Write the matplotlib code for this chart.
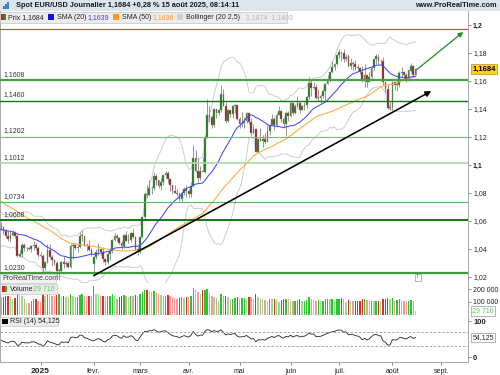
import numpy as np
import pandas as pd
import matplotlib
matplotlib.use('Agg')
import matplotlib.pyplot as plt
from matplotlib.patches import Rectangle
import matplotlib.transforms as mtransforms

plt.rcParams['font.family'] = ['Liberation Sans', 'DejaVu Sans']

# ---------------- data ----------------
# closes before the visible window (used only for SMA / Bollinger / RSI warm-up)
warmup_close = [1.1110, 1.1180, 1.1135, 1.1175, 1.1165, 1.1135, 1.1065, 1.1045, 1.1030, 1.0975,
                1.0975, 1.0980, 1.0940, 1.0935, 1.0935, 1.0910, 1.0890, 1.0860, 1.0830, 1.0865,
                1.0815, 1.0795, 1.0780, 1.0825, 1.0795, 1.0815, 1.0815, 1.0855, 1.0885, 1.0835,
                1.0880, 1.0930, 1.0730, 1.0800, 1.0720, 1.0655, 1.0620, 1.0565, 1.0530, 1.0540,
                1.0600, 1.0595, 1.0545, 1.0470, 1.0420, 1.0495, 1.0490, 1.0565, 1.0555, 1.0578,
                1.0500, 1.0510, 1.0510, 1.0587]

dates = pd.bdate_range('2024-12-06', '2025-08-15')

opens = [
    # Dec
    1.0587, 1.0567, 1.0555, 1.0528, 1.0495, 1.0468, 1.0500, 1.0512, 1.0490, 1.0350, 1.0363, 1.0430, 1.0405, 1.0405, 1.0400, 1.0424, 1.0426, 1.0410,
    # Jan
    1.0354, 1.0352, 1.0265, 1.0307, 1.0390, 1.0343, 1.0318, 1.0300, 1.0244, 1.0245, 1.0308, 1.0290, 1.0300, 1.0272, 1.0418, 1.0430, 1.0410, 1.0415, 1.0495, 1.0495, 1.0430, 1.0422, 1.0390,
    # Feb
    1.0290, 1.0345, 1.0380, 1.0403, 1.0380, 1.0330, 1.0308, 1.0362, 1.0385, 1.0465, 1.0490, 1.0482, 1.0445, 1.0420, 1.0500, 1.0460, 1.0467, 1.0513, 1.0485, 1.0400,
    # Mar
    1.0375, 1.0485, 1.0625, 1.0790, 1.0785, 1.0833, 1.0835, 1.0920, 1.0890, 1.0850, 1.0880, 1.0925, 1.0945, 1.0900, 1.0855, 1.0815, 1.0800, 1.0790, 1.0755, 1.0800, 1.0830,
    # Apr
    1.0815, 1.0793, 1.0853, 1.1050, 1.0960, 1.0905, 1.0960, 1.0950, 1.1190, 1.1360, 1.1345, 1.1285, 1.1400, 1.1370, 1.1395, 1.1510, 1.1420, 1.1315, 1.1390, 1.1365, 1.1420, 1.1425,
    # May
    1.1330, 1.1290, 1.1300, 1.1315, 1.1370, 1.1305, 1.1225, 1.1255, 1.1090, 1.1185, 1.1175, 1.1185, 1.1165, 1.1240, 1.1285, 1.1330, 1.1285, 1.1360, 1.1385, 1.1325, 1.1290, 1.1370,
    # Jun
    1.1350, 1.1440, 1.1370, 1.1420, 1.1445, 1.1395, 1.1420, 1.1425, 1.1485, 1.1585, 1.1550, 1.1560, 1.1480, 1.1480, 1.1495, 1.1525, 1.1580, 1.1610, 1.1665, 1.1700, 1.1720,
    # Jul
    1.1785, 1.1805, 1.1800, 1.1760, 1.1775, 1.1710, 1.1725, 1.1720, 1.1700, 1.1690, 1.1665, 1.1600, 1.1640, 1.1595, 1.1625, 1.1690, 1.1755, 1.1775, 1.1740, 1.1740, 1.1590, 1.1545, 1.1405,
    # Aug
    1.1415, 1.1590, 1.1570, 1.1575, 1.1660, 1.1665, 1.1640, 1.1615, 1.1675, 1.1705, 1.1645,
]
highs = [
    1.0630, 1.0595, 1.0560, 1.0545, 1.0525, 1.0525, 1.0535, 1.0525, 1.0510, 1.0395, 1.0445, 1.0445, 1.0415, 1.0415, 1.0430, 1.0455, 1.0445, 1.0420,
    1.0375, 1.0365, 1.0315, 1.0437, 1.0435, 1.0355, 1.0330, 1.0315, 1.0255, 1.0315, 1.0350, 1.0315, 1.0315, 1.0435, 1.0440, 1.0445, 1.0425, 1.0520, 1.0535, 1.0495, 1.0445, 1.0465, 1.0410,
    1.0350, 1.0400, 1.0440, 1.0410, 1.0412, 1.0335, 1.0375, 1.0405, 1.0470, 1.0515, 1.0505, 1.0485, 1.0455, 1.0505, 1.0528, 1.0505, 1.0520, 1.0545, 1.0490, 1.0420,
    1.0495, 1.0630, 1.0805, 1.0855, 1.0890, 1.0850, 1.0947, 1.0935, 1.0895, 1.0905, 1.0925, 1.0955, 1.0955, 1.0905, 1.0860, 1.0860, 1.0825, 1.0805, 1.0815, 1.0845, 1.0855,
    1.0830, 1.0880, 1.1145, 1.1105, 1.1050, 1.0990, 1.1055, 1.1215, 1.1475, 1.1420, 1.1355, 1.1405, 1.1400, 1.1400, 1.1573, 1.1545, 1.1450, 1.1400, 1.1395, 1.1425, 1.1435, 1.1425,
    1.1345, 1.1380, 1.1345, 1.1380, 1.1380, 1.1335, 1.1290, 1.1265, 1.1195, 1.1265, 1.1215, 1.1225, 1.1285, 1.1285, 1.1365, 1.1345, 1.1375, 1.1420, 1.1390, 1.1345, 1.1385, 1.1385,
    1.1455, 1.1445, 1.1435, 1.1495, 1.1455, 1.1430, 1.1450, 1.1495, 1.1630, 1.1615, 1.1590, 1.1580, 1.1540, 1.1510, 1.1540, 1.1585, 1.1640, 1.1665, 1.1745, 1.1725, 1.1790,
    1.1830, 1.1810, 1.1830, 1.1790, 1.1790, 1.1765, 1.1745, 1.1750, 1.1720, 1.1700, 1.1710, 1.1720, 1.1645, 1.1665, 1.1700, 1.1760, 1.1790, 1.1790, 1.1755, 1.1770, 1.1595, 1.1580, 1.1450,
    1.1600, 1.1595, 1.1605, 1.1670, 1.1700, 1.1670, 1.1655, 1.1680, 1.1730, 1.1715, 1.1690,
]
lows = [
    1.0540, 1.0535, 1.0510, 1.0480, 1.0460, 1.0450, 1.0490, 1.0475, 1.0345, 1.0345, 1.0345, 1.0385, 1.0385, 1.0395, 1.0380, 1.0390, 1.0390, 1.0345,
    1.0340, 1.0225, 1.0250, 1.0300, 1.0335, 1.0275, 1.0285, 1.0215, 1.0178, 1.0235, 1.0265, 1.0270, 1.0265, 1.0265, 1.0325, 1.0390, 1.0380, 1.0410, 1.0455, 1.0420, 1.0385, 1.0385, 1.0350,
    1.0210, 1.0330, 1.0355, 1.0355, 1.0305, 1.0285, 1.0290, 1.0320, 1.0370, 1.0455, 1.0460, 1.0435, 1.0400, 1.0410, 1.0455, 1.0445, 1.0450, 1.0480, 1.0390, 1.0360,
    1.0370, 1.0480, 1.0610, 1.0765, 1.0780, 1.0795, 1.0820, 1.0860, 1.0835, 1.0820, 1.0860, 1.0910, 1.0875, 1.0815, 1.0795, 1.0800, 1.0780, 1.0745, 1.0735, 1.0785, 1.0775,
    1.0775, 1.0775, 1.0840, 1.0950, 1.0880, 1.0895, 1.0950, 1.0940, 1.1190, 1.1305, 1.1265, 1.1270, 1.1335, 1.1360, 1.1380, 1.1420, 1.1300, 1.1310, 1.1340, 1.1335, 1.1375, 1.1320,
    1.1265, 1.1275, 1.1265, 1.1300, 1.1290, 1.1205, 1.1220, 1.1090, 1.1085, 1.1170, 1.1130, 1.1150, 1.1165, 1.1215, 1.1285, 1.1250, 1.1275, 1.1355, 1.1305, 1.1265, 1.1210, 1.1315,
    1.1345, 1.1355, 1.1365, 1.1405, 1.1375, 1.1390, 1.1395, 1.1410, 1.1470, 1.1490, 1.1540, 1.1470, 1.1460, 1.1445, 1.1480, 1.1455, 1.1580, 1.1590, 1.1660, 1.1680, 1.1715,
    1.1765, 1.1745, 1.1735, 1.1745, 1.1700, 1.1685, 1.1680, 1.1680, 1.1670, 1.1650, 1.1595, 1.1555, 1.1555, 1.1590, 1.1615, 1.1680, 1.1720, 1.1720, 1.1715, 1.1575, 1.1520, 1.1400, 1.1392,
    1.1390, 1.1535, 1.1530, 1.1560, 1.1630, 1.1615, 1.1590, 1.1600, 1.1665, 1.1630, 1.1640,
]
closes = [
    1.0567, 1.0555, 1.0528, 1.0495, 1.0468, 1.0500, 1.0512, 1.0490, 1.0350, 1.0363, 1.0430, 1.0405, 1.0405, 1.0400, 1.0424, 1.0426, 1.0410, 1.0354,
    1.0352, 1.0265, 1.0307, 1.0390, 1.0343, 1.0318, 1.0300, 1.0244, 1.0245, 1.0308, 1.0290, 1.0300, 1.0272, 1.0418, 1.0430, 1.0410, 1.0415, 1.0495, 1.0495, 1.0430, 1.0422, 1.0390, 1.0362,
    1.0345, 1.0380, 1.0403, 1.0380, 1.0330, 1.0308, 1.0362, 1.0385, 1.0465, 1.0490, 1.0482, 1.0445, 1.0420, 1.0500, 1.0460, 1.0467, 1.0513, 1.0485, 1.0400, 1.0375,
    1.0485, 1.0625, 1.0790, 1.0785, 1.0833, 1.0835, 1.0920, 1.0890, 1.0850, 1.0880, 1.0925, 1.0945, 1.0900, 1.0855, 1.0815, 1.0800, 1.0790, 1.0755, 1.0800, 1.0830, 1.0815,
    1.0793, 1.0853, 1.1050, 1.0960, 1.0905, 1.0960, 1.0950, 1.1190, 1.1360, 1.1345, 1.1285, 1.1400, 1.1370, 1.1395, 1.1510, 1.1420, 1.1315, 1.1390, 1.1365, 1.1420, 1.1425, 1.1330,
    1.1290, 1.1300, 1.1315, 1.1370, 1.1305, 1.1225, 1.1255, 1.1090, 1.1185, 1.1175, 1.1185, 1.1165, 1.1240, 1.1285, 1.1330, 1.1285, 1.1360, 1.1385, 1.1325, 1.1290, 1.1370, 1.1350,
    1.1440, 1.1370, 1.1420, 1.1445, 1.1395, 1.1420, 1.1425, 1.1485, 1.1585, 1.1550, 1.1560, 1.1480, 1.1480, 1.1495, 1.1525, 1.1580, 1.1610, 1.1665, 1.1700, 1.1720, 1.1785,
    1.1805, 1.1800, 1.1760, 1.1775, 1.1710, 1.1725, 1.1720, 1.1700, 1.1690, 1.1665, 1.1600, 1.1640, 1.1595, 1.1625, 1.1690, 1.1755, 1.1775, 1.1740, 1.1740, 1.1590, 1.1545, 1.1405, 1.1415,
    1.1590, 1.1570, 1.1575, 1.1660, 1.1665, 1.1640, 1.1615, 1.1675, 1.1705, 1.1645, 1.1684,
]
volumes_k = [
    150, 135, 140, 145, 150, 140, 125, 130, 165, 160, 150, 120, 95, 90, 110, 120, 125, 110,
    100, 165, 150, 160, 155, 145, 140, 155, 160, 140, 145, 140, 135, 160, 150, 140, 140, 155, 160, 150, 140, 150, 145,
    220, 165, 160, 150, 150, 135, 145, 150, 160, 150, 120, 140, 145, 155, 150, 140, 150, 145, 155, 150,
    165, 175, 190, 195, 185, 175, 185, 170, 160, 155, 150, 150, 155, 150, 140, 130, 125, 130, 135, 130, 140,
    135, 150, 205, 195, 175, 165, 190, 190, 200, 160, 150, 140, 130, 110, 160, 150, 150, 140, 120, 125, 130, 135,
    120, 130, 130, 125, 140, 135, 120, 165, 140, 125, 120, 115, 110, 125, 120, 120, 115, 100, 115, 120, 125, 120,
    115, 110, 110, 115, 120, 105, 110, 115, 135, 125, 115, 110, 115, 105, 110, 120, 125, 120, 125, 115, 120,
    125, 130, 120, 100, 115, 110, 105, 110, 110, 110, 120, 125, 115, 110, 110, 105, 110, 110, 105, 120, 120, 130, 125,
    130, 110, 115, 125, 115, 105, 100, 110, 115, 110, 29.71,
]

levels = [1.1608, 1.1460, 1.1202, 1.1012, 1.0734, 1.0608, 1.0230]
level_labels = ['1,1608', '1,1460', '1,1202', '1,1012', '1,0734', '1,0608', '1,0230']
red_level = 1.197
# hand-drawn trend lines: (bar index, price)
black_trend = [(41, 1.0210), (186.8, 1.1528)]
green_arrow = [(180.6, 1.1682), (200.6, 1.1950)]
month_labels = ['2025', 'févr.', 'mars', 'avr.', 'mai', 'juin', 'juil.', 'août', 'sept.']
price_ticks = [1.02, 1.04, 1.06, 1.08, 1.10, 1.12, 1.14, 1.16, 1.18, 1.20]

# ---------------- computation ----------------
o = np.array(opens); h = np.array(highs); l = np.array(lows); c = np.array(closes)
v = np.array(volumes_k) * 1000
n = len(c)
assert len(dates) == n == len(o) == len(h) == len(l) == len(v)
x = np.arange(n)

full = pd.Series(warmup_close + closes)
sma20 = full.rolling(20).mean().values[-n:]
sma50 = full.rolling(50).mean().values[-n:]
sd20 = full.rolling(20).std(ddof=0).values[-n:]
bb_up = sma20 + 2.5 * sd20
bb_lo = sma20 - 2.5 * sd20
d = full.diff()
gain = d.clip(lower=0).ewm(alpha=1/14, adjust=False).mean()
loss = (-d.clip(upper=0)).ewm(alpha=1/14, adjust=False).mean()
rsi = (100 - 100 / (1 + gain / loss)).values[-n:]

# ---------------- figure ----------------
W, H = 500, 375
fig = plt.figure(figsize=(5, 3.75), dpi=100)
fig.patch.set_facecolor('white')

def rect(x0, y0, x1, y1):
    return [x0 / W, 1 - y1 / H, (x1 - x0) / W, (y1 - y0) / H]

RX = 467.5
ax = fig.add_axes(rect(0, 11, RX, 283))
axv = fig.add_axes(rect(0, 283, RX, 316), sharex=ax)
axr = fig.add_axes(rect(0, 316, RX, 362), sharex=ax)

pxbar = 2.315
jan1 = int(np.where(dates >= pd.Timestamp('2025-01-01'))[0][0])
xmin = jan1 - 40.5 / pxbar
xmax = xmin + RX / pxbar
ax.set_xlim(xmin, xmax)
ax.set_ylim(1.2 - (283 - 25) / 1400, 1.2 + 14 / 1400)
axv.set_ylim(-100000 / 13, 100000 * 32 / 13)
axr.set_ylim(-5 / 0.36, 100 + 5 / 0.36)

spine_c = '#a8a8a8'
for a in (ax, axv, axr):
    for s in a.spines.values():
        s.set_color(spine_c)
        s.set_linewidth(0.7)
    a.spines['top'].set_visible(False)
    a.yaxis.tick_right()
    a.tick_params(axis='y', which='both', length=2, width=0.6, color='#777777', pad=2,
                  labelsize=5, labelcolor='#222222', direction='out')
    a.tick_params(axis='x', which='both', bottom=False, labelbottom=False)

# level lines
lvl_style = {
    1.1608: ('#45a345', 1.6), 1.1460: ('#177317', 1.0), 1.1202: ('#70c070', 0.8),
    1.1012: ('#a8dba8', 1.2), 1.0734: ('#5cb85c', 0.8), 1.0608: ('#157515', 1.4),
    1.0230: ('#3d9d3d', 1.6),
}
blend = mtransforms.blended_transform_factory(ax.transAxes, ax.transData)
for lv, lab in zip(levels, level_labels):
    col, lw = lvl_style[lv]
    ax.axhline(lv, color=col, lw=lw, zorder=4)
    ax.text(3 / RX, lv + 2.2 / 1400, lab, transform=blend, fontsize=5, color='#333333',
            va='bottom', ha='left', zorder=6)
ax.axhline(red_level, color='#e23a3a', lw=0.8, zorder=4)

# bollinger and SMAs
ax.plot(x, bb_up, color='#cccccc', lw=0.7, zorder=1)
ax.plot(x, bb_lo, color='#cccccc', lw=0.7, zorder=1)
ax.plot(x, sma50, color='#ffa837', lw=0.75, zorder=3)
ax.plot(x, sma20, color='#4646ff', lw=0.75, zorder=3)

# candles
up = c >= o
body_col = np.where(up, '#157a15', '#8e1b1b')
ax.vlines(x, l, h, color='#7a7a7a', lw=0.55, zorder=2)
body_h = np.maximum(np.abs(c - o), 0.0003)
ax.bar(x, body_h, bottom=np.minimum(o, c), width=0.75, color=body_col,
       edgecolor='#9a9a9a', linewidth=0.3, zorder=2.5)

# hand-drawn trend lines
ax.annotate('', xy=black_trend[1], xytext=black_trend[0],
            arrowprops=dict(arrowstyle='-|>', color='black', lw=1.15, mutation_scale=8,
                            shrinkA=0, shrinkB=0), zorder=7)
ax.annotate('', xy=green_arrow[1], xytext=green_arrow[0],
            arrowprops=dict(arrowstyle='-|>', color='#1c8c1c', lw=0.9, mutation_scale=7,
                            shrinkA=0, shrinkB=0), zorder=7)

# price axis
ax.set_yticks(price_ticks)
ax.set_yticklabels([('%.2f' % t).replace('.', ',').rstrip('0') for t in price_ticks])
for t, lab in zip(price_ticks, ax.get_yticklabels()):
    if abs(t - 1.2) < 1e-9 or abs(t - 1.1) < 1e-9:
        lab.set_fontweight('bold')
ax.text(1 + 5 / RX, c[-1], '1,1684', transform=blend, fontsize=5.5, fontweight='bold',
        va='center', ha='left', color='black', zorder=10, clip_on=False,
        bbox=dict(boxstyle='square,pad=0.18', fc='#ffd219', ec='#b89600', lw=0.5))

# volume
vol_prev = np.concatenate([[v[0]], v[:-1]])
vcol = []
for i in range(n):
    if up[i]:
        vcol.append('#2fc42f' if v[i] >= vol_prev[i] else '#8fe28f')
    else:
        vcol.append('#dd2e2e' if v[i] >= vol_prev[i] else '#f29a9a')
axv.bar(x, v, width=0.6, color=vcol, linewidth=0)
axv.set_yticks([100000, 200000])
axv.set_yticklabels(['100 000', '200 000'])
blendv = mtransforms.blended_transform_factory(axv.transAxes, axv.transData)
axv.text(1 + 5 / RX, v[-1], '29 710', transform=blendv, fontsize=5, color='#55c855',
         va='center', ha='left', clip_on=False,
         bbox=dict(boxstyle='square,pad=0.18', fc='white', ec='#999999', lw=0.5))

# RSI
axr.plot(x, rsi, color='#222222', lw=0.6)
axr.axhline(70, color='#999999', lw=0.6, ls=(0, (3, 2)))
axr.axhline(30, color='#999999', lw=0.6, ls=(0, (3, 2)))
axr.set_yticks([0, 100])
axr.set_yticklabels(['0', '100'])
for lab in axr.get_yticklabels():
    lab.set_fontweight('bold')
    lab.set_fontsize(5.5)
blendr = mtransforms.blended_transform_factory(axr.transAxes, axr.transData)
axr.text(1 + 5 / RX, rsi[-1], '54,125', transform=blendr, fontsize=5, color='#222222',
         va='center', ha='left', clip_on=False,
         bbox=dict(boxstyle='square,pad=0.18', fc='white', ec='#999999', lw=0.5))

# month ticks
month_starts = [int(np.where((dates.month == m) & (dates.year == 2025))[0][0]) for m in range(1, 9)]
future = pd.bdate_range(dates[-1] + pd.Timedelta(days=1), '2025-09-30')
sep1 = n + int(np.where(future >= pd.Timestamp('2025-09-01'))[0][0])
month_pos = month_starts + [sep1]
axr.set_xticks(month_pos)
axr.tick_params(axis='x', bottom=True, labelbottom=True, length=2, width=0.6, color='#777777',
                labelsize=5, pad=2, labelcolor='#222222')
axr.set_xticklabels(month_labels)
axr.get_xticklabels()[0].set_fontweight('bold')
axr.get_xticklabels()[0].set_fontsize(6)

# ---------------- header and legends ----------------
def ftext(xp, yp, s, **kw):
    kw.setdefault('va', 'center')
    kw.setdefault('ha', 'left')
    kw.setdefault('fontsize', 5)
    return fig.text(xp / W, 1 - yp / H, s, **kw)

def frect(x0, y0, x1, y1, **kw):
    fig.patches.append(Rectangle((x0 / W, 1 - y1 / H), (x1 - x0) / W, (y1 - y0) / H,
                                 transform=fig.transFigure, figure=fig, **kw))

frect(0, 0, 500, 11, fc='#dce4ec', ec='none', zorder=0)
frect(0, 10.5, 500, 11, fc='#b8c2cc', ec='none', zorder=0)
for i, hh in enumerate([3, 5, 7]):
    frect(3 + i * 2.2, 9 - hh, 4.5 + i * 2.2, 9, fc='#3f7fd0', ec='none', zorder=1)
ftext(16, 5.6, 'Spot EUR/USD Journalier 1,1684 +0,28 % 15 août 2025, 08:14:11',
      fontweight='bold', fontsize=5.3, color='#1a1a1a')
ftext(497, 5.6, 'www.ProRealTime.com', ha='right', fontweight='bold', fontsize=5.3, color='#1a1a1a')

# legend row
frect(0, 12, 287, 22.5, fc='#ececec', ec='#c4c4c4', lw=0.5, zorder=5)
frect(1, 14, 3.5, 20, fc='#d42020', ec='none', zorder=6)
frect(3.5, 14, 6, 20, fc='#20a020', ec='none', zorder=6)
ftext(8.5, 17.3, 'Prix 1,1684', color='#222222', zorder=7)
frect(48, 14, 54, 20, fc='#1010ee', ec='none', zorder=6)
ftext(57, 17.3, 'SMA (20)', color='#222222', zorder=7)
ftext(87.5, 17.3, '1,1639', color='#3a3aff', zorder=7)
frect(113, 14, 119, 20, fc='#ff9a1a', ec='none', zorder=6)
ftext(121.5, 17.3, 'SMA (50)', color='#222222', zorder=7)
ftext(152, 17.3, '1,1636', color='#ff9a1a', zorder=7)
frect(177, 14, 183, 20, fc='#cfcfcf', ec='none', zorder=6)
ftext(185.5, 17.3, 'Bollinger (20 2,5)', color='#222222', zorder=7)
ftext(246.5, 17.3, '1,1874  1,1403', color='#b8b8b8', zorder=7)

# ProRealTime watermark
frect(0, 273.5, 56, 282.5, fc='#f0f0f0', ec='#c8c8c8', lw=0.5, zorder=5)
ftext(2, 278.3, 'ProRealTime.com', color='#444444', zorder=7)
# small info box
frect(414.5, 273.5, 420.5, 280.5, fc='white', ec='#999999', lw=0.5, zorder=5)
ftext(417.5, 277, 'i', ha='center', fontsize=4, color='#555555', zorder=7)

# volume legend
frect(0, 284, 57, 294, fc='#ececec', ec='#c8c8c8', lw=0.5, zorder=5)
frect(2, 286, 4.7, 292, fc='#d42020', ec='none', zorder=6)
frect(4.7, 286, 7.4, 292, fc='#20c020', ec='none', zorder=6)
ftext(10, 289.3, 'Volume', color='#222222', zorder=7)
ftext(33, 289.3, '29 710', color='#55c855', zorder=7)

# RSI legend
frect(0, 316.5, 58, 326, fc='#ececec', ec='#c8c8c8', lw=0.5, zorder=5)
frect(2, 318.5, 7.5, 324, fc='#000000', ec='none', zorder=6)
ftext(9.5, 321.3, 'RSI (14) 54,125', color='#222222', zorder=7)

fig.savefig('out.png', dpi=100)
